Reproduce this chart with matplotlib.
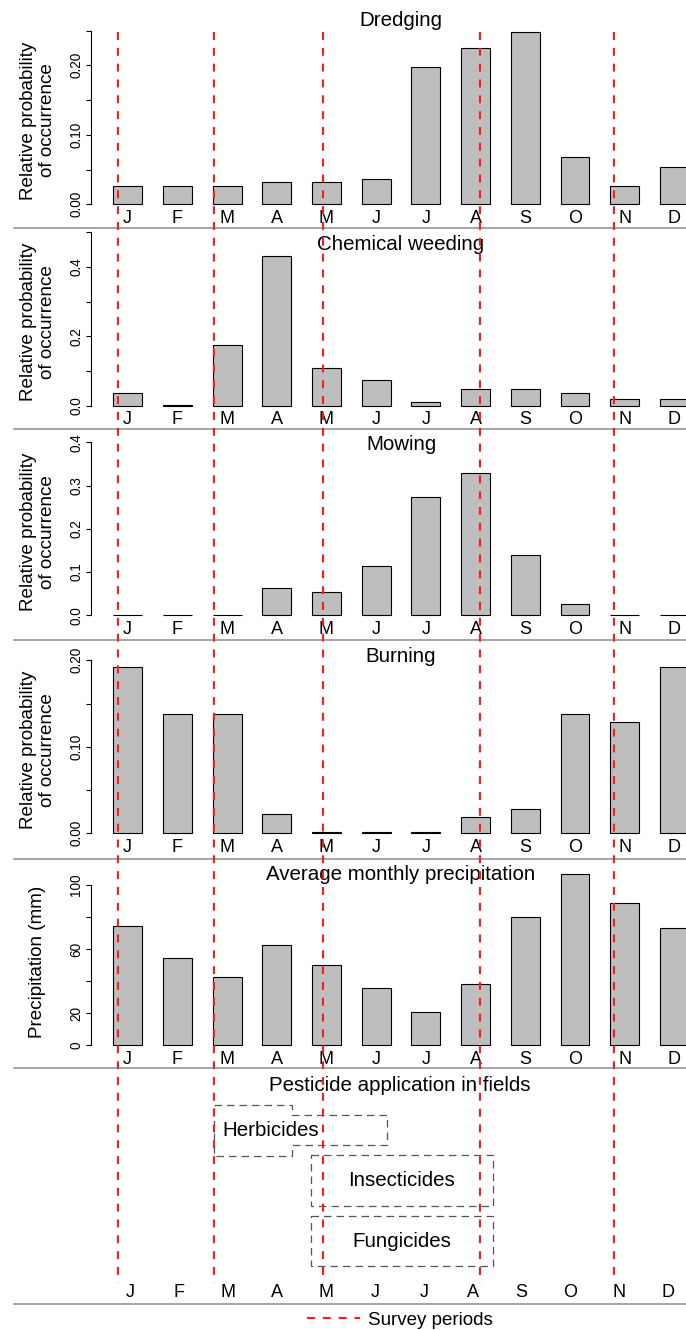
import numpy as np
import matplotlib.pyplot as plt
from matplotlib.lines import Line2D
from matplotlib.patches import Polygon, Rectangle

plt.rcParams['font.family'] = ['Liberation Sans', 'DejaVu Sans']

W, H = 686, 1330

months = ['J', 'F', 'M', 'A', 'M', 'J', 'J', 'A', 'S', 'O', 'N', 'D']

# relative probability of occurrence per month
dredging = [0.027, 0.027, 0.027, 0.032, 0.032, 0.0365, 0.198, 0.225, 0.2475, 0.068, 0.027, 0.054]
weeding = [0.0357, 0.002, 0.174, 0.431, 0.110, 0.073, 0.0106, 0.047, 0.047, 0.0357, 0.0193, 0.0193]
mowing = [0, 0, 0, 0.063, 0.053, 0.113, 0.2736, 0.330, 0.140, 0.027, 0, 0]
burning = [0.192, 0.138, 0.138, 0.022, 0.002, 0.001, 0.001, 0.0193, 0.0281, 0.138, 0.129, 0.192]
# average monthly precipitation (mm)
precip = [74.3, 54.1, 42.3, 62.6, 49.8, 35.7, 20.9, 38.0, 79.9, 106.4, 88.6, 72.8]

# survey dates, on the month axis (0 = J bar)
survey = [-0.19, 1.745, 3.935, 7.095, 9.79]

# pesticide windows, on the month axis of the last panel
herb_early = (1.70, 3.31)
herb_late = (3.31, 5.24)
insect = (3.69, 7.41)
fungi = (3.69, 7.41)


def fx(px):
    return px / W


def fy(py):
    return 1 - py / H


fig = plt.figure(figsize=(6.86, 13.30), dpi=100)

# bar panels share one month scale: J centre at 127.7 px, 49.7 px per month
x_left = 90.7
xlim = ((x_left - 127.7) / 49.7, (W - 127.7) / 49.7)

panels = [
    # title, values, y0 px, ytop px, ylim top, spine top, ticks, labelled ticks, ylabel, title y
    ('Dredging', dredging, 204.3, 30.55, 0.25, 0.25, np.arange(0, 0.26, 0.05), [0, 0.1, 0.2], '%.2f', 'Relative probability\nof occurrence', 20),
    ('Chemical weeding', weeding, 405.7, 232.3, 0.5, 0.5, np.arange(0, 0.51, 0.1), [0, 0.2, 0.4], '%.1f', 'Relative probability\nof occurrence', 244.3),
    ('Mowing', mowing, 615.3, 442.3, 0.4, 0.4, np.arange(0, 0.41, 0.1), [0, 0.1, 0.2, 0.3, 0.4], '%.1f', 'Relative probability\nof occurrence', 445),
    ('Burning', burning, 833.3, 660.3, 0.2, 0.2, np.arange(0, 0.21, 0.05), [0, 0.1, 0.2], '%.2f', 'Relative probability\nof occurrence', 656),
    ('Average monthly precipitation', precip, 1045.3, 872.5, 107.6, 100, np.arange(0, 101, 20), [0, 20, 60, 100], '%d', 'Precipitation (mm)', 875),
]

for title, vals, y0, ytop, ymax, stop, ticks, lab, fmt, ylab, ty in panels:
    ax = fig.add_axes([fx(x_left), fy(y0), fx(W - x_left), (y0 - ytop) / H])
    ax.patch.set_alpha(0)
    ax.bar(np.arange(12), vals, width=0.58, color='#bebebe', edgecolor='black',
           linewidth=0.8, clip_on=False)
    ax.set_xlim(*xlim)
    ax.set_ylim(0, ymax)
    for s in ['top', 'right', 'bottom']:
        ax.spines[s].set_visible(False)
    ax.spines['left'].set_bounds(0, stop)
    ax.spines['left'].set_linewidth(0.8)
    ax.set_yticks(ticks)
    ax.set_yticklabels([fmt % t if any(abs(t - l) < 1e-9 for l in lab) else '' for t in ticks],
                       rotation=90, va='center')
    ax.tick_params(axis='y', length=3.4, width=0.8, labelsize=9.8, pad=2)
    ax.set_xticks(np.arange(12))
    ax.set_xticklabels(months)
    ax.tick_params(axis='x', length=0, labelsize=13, pad=4)
    fig.text(fx(401), fy(ty), title, ha='center', va='center', fontsize=14.8)
    fig.text(fx(38), fy((y0 + ytop) / 2 + 3), ylab, ha='center', va='center',
             rotation=90, fontsize=13.6, linespacing=1.15)

# pesticide panel, own month scale: J at 130.4 px, 48.9 px per month
ax6 = fig.add_axes([fx(x_left), fy(1304), fx(W - x_left), (1304 - 1068) / H])
ax6.set_xlim((x_left - 130.4) / 48.9, (W - 130.4) / 48.9)
ax6.set_ylim(1304, 1068)
ax6.axis('off')
ax6.patch.set_alpha(0)
for i, m in enumerate(months):
    ax6.text(i, 1292.3, m, ha='center', va='center', fontsize=13)
fig.text(fx(400), fy(1085.7), 'Pesticide application in fields', ha='center', va='center', fontsize=14.8)

box_style = dict(fill=False, edgecolor='#555555', linewidth=0.9, linestyle=(0, (6, 4)))
herb = Polygon([(herb_early[0], 1105), (herb_early[1], 1105), (herb_late[0], 1115),
                (herb_late[1], 1115), (herb_late[1], 1145), (herb_late[0], 1145),
                (herb_early[1], 1155.7), (herb_early[0], 1155.7)], closed=True, **box_style)
ax6.add_patch(herb)
ax6.add_patch(Rectangle((insect[0], 1155), insect[1] - insect[0], 51, **box_style))
ax6.add_patch(Rectangle((fungi[0], 1216), fungi[1] - fungi[0], 50, **box_style))
ax6.text(herb_early[0] + 0.19, 1131, 'Herbicides', ha='left', va='center', fontsize=14.8)
ax6.text(np.mean(insect), 1181, 'Insecticides', ha='center', va='center', fontsize=14.8)
ax6.text(np.mean(fungi), 1241.7, 'Fungicides', ha='center', va='center', fontsize=14.8)

# survey lines across all panels
ov = fig.add_axes([fx(x_left), 0, fx(W - x_left), 1], zorder=10)
ov.set_xlim(*xlim)
ov.set_ylim(H, 0)
ov.axis('off')
ov.patch.set_alpha(0)
for s in survey:
    ov.plot([s, s], [31.7, 1283], color='#ff1a1a', linewidth=1.5, linestyle=(0, (3.8, 3.8)))

# separators
for y in [228, 429, 640, 859, 1068, 1304]:
    fig.add_artist(Line2D([fx(14.4), 1], [fy(y), fy(y)], color='#8c8c8c', linewidth=1.1))

handle = Line2D([], [], color='#ff1a1a', linewidth=1.5, linestyle=(0, (3.8, 3.8)))
fig.legend(handles=[handle], labels=['Survey periods'], loc='center',
           bbox_to_anchor=(fx(400), fy(1320)), frameon=False, fontsize=13.5,
           handlelength=2.8, handletextpad=0.45, borderpad=0)

fig.savefig('out.png', dpi=100)
